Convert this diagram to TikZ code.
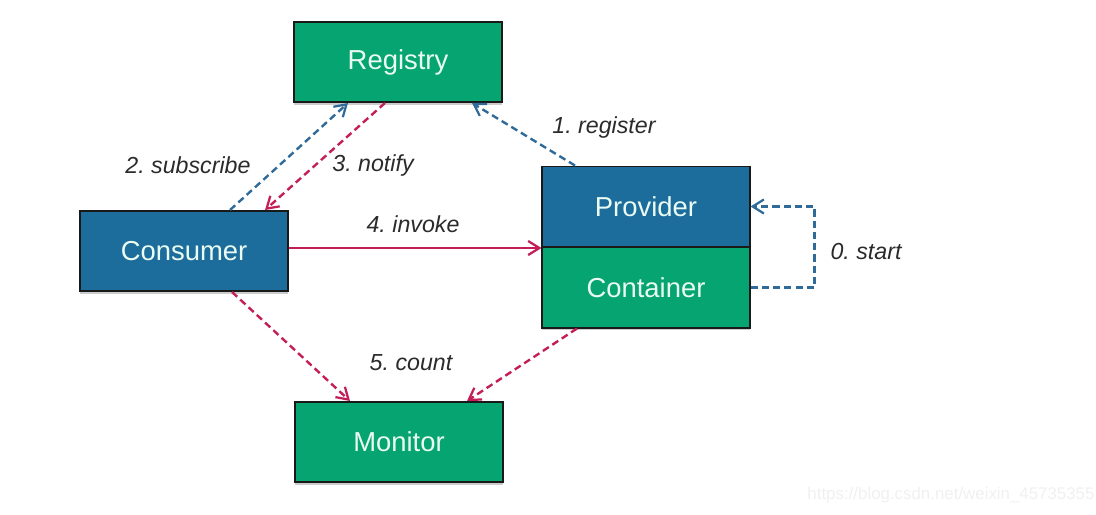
\documentclass[tikz,border=0pt]{standalone}
\usepackage{fontspec}
\setmainfont{Liberation Sans}
\usepackage{xcolor}
\usepackage{tikz}
\usetikzlibrary{calc,arrows.meta,shadows}
\definecolor{dbgreen}{HTML}{06A470}
\definecolor{dbblue}{HTML}{1C6C9C}
\definecolor{dbline}{HTML}{2F6A98}
\definecolor{dbred}{HTML}{C41E58}
\definecolor{dbtext}{HTML}{EAFBF2}
\definecolor{dblbl}{HTML}{2B2B2B}
\frenchspacing

\begin{document}
\begin{tikzpicture}[x=0.025cm,y=-0.025cm,>={Straight Barb[length=8pt,width=10pt,line width=1.6pt]},
        box/.style={draw=black!90,line width=1.4pt,minimum width=5.175cm,minimum height=2cm,inner sep=0pt,
          text=dbtext,font=\fontsize{19.5}{21}\selectfont,
          drop shadow={shadow xshift=0pt,shadow yshift=-2pt,opacity=0.2,fill=black}},
        gbox/.style={box,fill=dbgreen},bbox/.style={box,fill=dbblue},
        lbl/.style={text=dblbl,font=\fontsize{16.5}{18}\selectfont\itshape},
        dash blue/.style={->,dbline,line width=1.7pt,dash pattern=on 5pt off 3pt},
        dash red/.style={->,dbred,line width=1.7pt,dash pattern=on 5pt off 3pt}]
        \useasboundingbox (0,0) rectangle (1096,514);
        \node[gbox] (reg) at (398,62) {Registry};
        \node[bbox] (cons) at (184,251) {Consumer};
        \node[bbox] (prov) at (646,206.5) {Provider};
        \node[gbox] (cont) at (646,287.5) {Container};
        \node[gbox] (mon) at (399,442) {Monitor};
        \node[lbl] (l0) at (866,252) {0. start};
        \node[lbl] (l1) at (604,127) {1. register};
        \node[lbl] (l2) at (188,165) {2. subscribe};
        \node[lbl] (l3) at (373,165) {3. notify};
        \node[lbl] (l4) at (413,224) {4. invoke};
        \node[lbl] (l5) at (411,363) {5. count};
        \draw[dash blue] (cont.east) -- ++(64,0) |- (prov.east);
        \draw[dash blue] ([xshift=-1.775cm]prov.north) -- ([xshift=1.85cm]reg.south);
        \draw[dash blue] ([xshift=1.15cm]cons.north) -- ([xshift=-1.25cm]reg.south);
        \draw[dash red] ([xshift=-0.325cm]reg.south) -- ([xshift=2.025cm]cons.north);
        \draw[->,dbred,line width=1.7pt] ([yshift=0.075cm]cons.east) -- ([yshift=0.075cm]cons.east -| prov.west);
        \draw[dash red] ([xshift=1.2cm]cons.south) -- ([xshift=-1.225cm]mon.north);
        \draw[dash red] ([xshift=-1.725cm]cont.south) -- ([xshift=1.7cm]mon.north);
        \node[text=black!6,font=\fontsize{12}{14}\selectfont] (wm) at (951,495) {https://blog.csdn.net/weixin\_45735355};
      \end{tikzpicture}
\end{document}
